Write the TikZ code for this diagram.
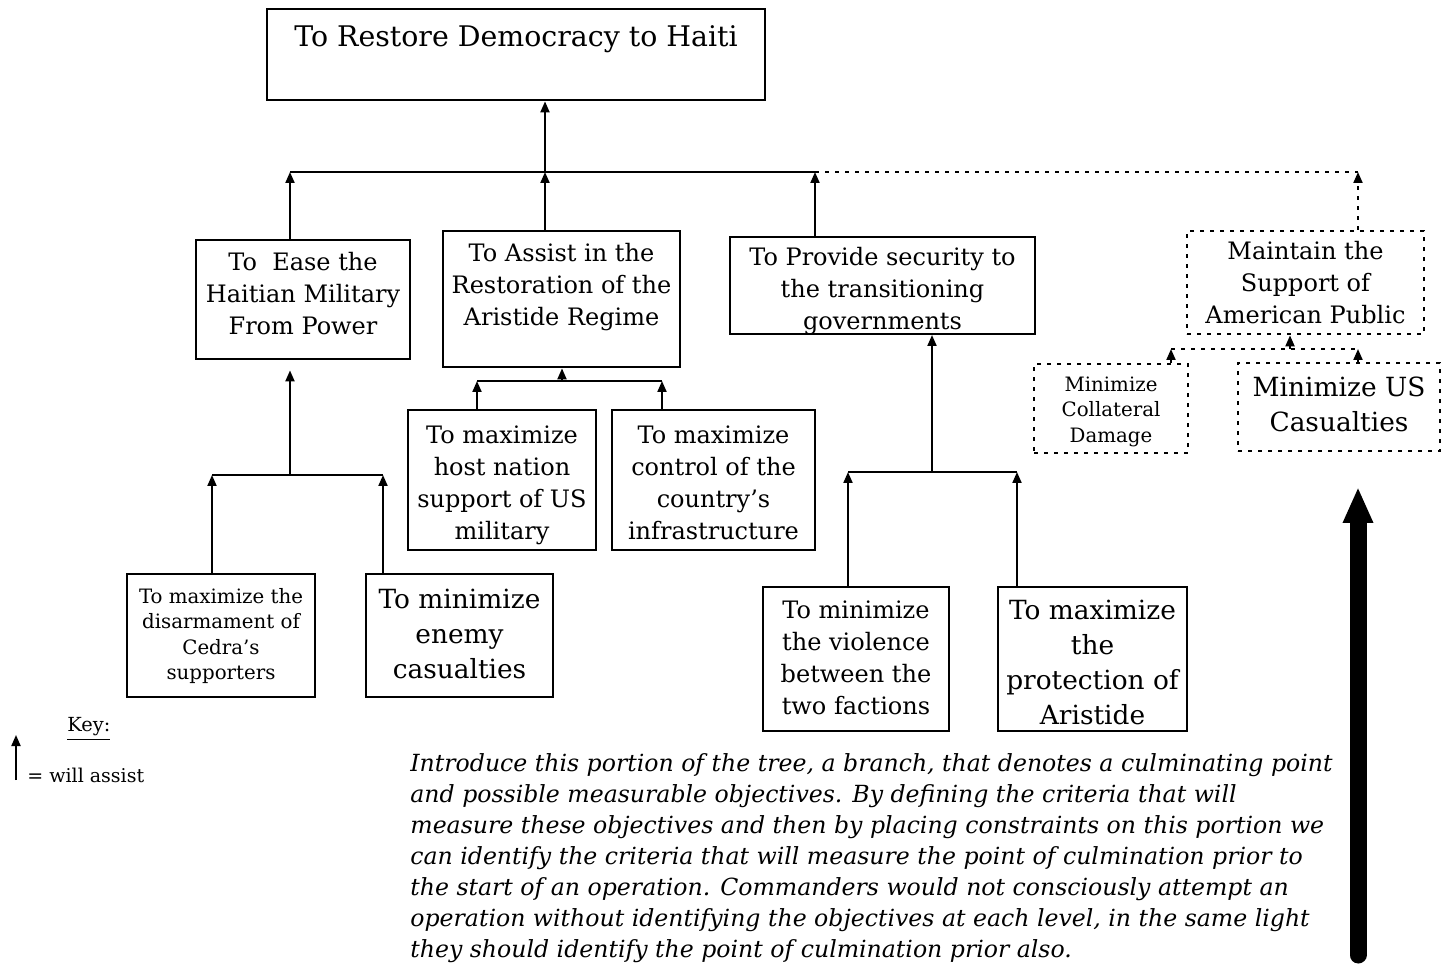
\documentclass[tikz,border=0pt]{standalone}
\usepackage{fontspec}
\setmainfont{DejaVu Serif}
\usetikzlibrary{positioning, arrows.meta}

\begin{document}
\begin{tikzpicture}[
    x=0.5pt, y=-0.5pt,
    box/.style={rectangle, draw, line width=1.2pt, align=center,
                inner sep=0pt, anchor=north},
    dbox/.style={box, dash pattern=on 2pt off 3pt},
    title/.style={font=\fontsize{14.2}{18}\selectfont},
    normal/.style={font=\fontsize{12}{16}\selectfont},
    big/.style={font=\fontsize{13.2}{17.5}\selectfont},
    small/.style={font=\fontsize{9.9}{12.8}\selectfont},
    arrow/.style={-{Triangle[length=5.5pt,width=4.5pt]}, line width=1pt},
    darrow/.style={arrow, dash pattern=on 2pt off 3pt},
    bar/.style={line width=1.2pt},
    dbar/.style={bar, dash pattern=on 2pt off 3pt},
    bigarrow/.style={-{Triangle[length=18pt,width=14pt]}, line width=8.5pt, line cap=round}
  ]
    \useasboundingbox (0,0) rectangle (1446,972);

    % goal and first level
    \node[box, title, minimum width=249pt, text height=18.5pt, text depth=27pt]
        (goal) at (516,8) {To Restore Democracy to Haiti};
    \node[box, normal, minimum width=107pt, text height=47pt, text depth=12.5pt]
        (ease) at (303,239) {To\ \ Ease the\\Haitian Military\\From Power};
    \node[box, normal, minimum width=118.5pt, text height=47pt, text depth=21pt]
        (assist) at (561.5,230) {To Assist in the\\Restoration of the\\Aristide Regime};
    \node[box, normal, minimum width=152.5pt, text height=46.3pt, text depth=2pt]
        (secure) at (882.5,236) {To Provide security to\\the transitioning\\governments};
    \node[dbox, normal, minimum width=118.5pt, text height=46pt, text depth=5.5pt]
        (support) at (1305.5,230) {Maintain the\\Support of\\American Public};

    % second level
    \node[box, small, minimum width=94pt, text height=52.9pt, text depth=8.6pt]
        (disarm) at (221,573) {To maximize the\\disarmament of\\Cedra's\\supporters};
    \node[box, big, minimum width=93.5pt, text height=52pt, text depth=9.5pt]
        (enemy) at (459.5,573) {To minimize\\enemy\\casualties};
    \node[box, normal, minimum width=94pt, text height=64.5pt, text depth=5.5pt]
        (host) at (502,409) {To maximize\\host nation\\support of US\\military};
    \node[box, normal, minimum width=101.5pt, text height=64.5pt, text depth=5.5pt]
        (infra) at (713.5,409) {To maximize\\control of the\\country's\\infrastructure};
    \node[box, normal, minimum width=93pt, text height=63.5pt, text depth=8.5pt]
        (violence) at (856,586) {To minimize\\the violence\\between the\\two factions};
    \node[box, big, minimum width=94.5pt, text height=68.5pt, text depth=3.5pt]
        (protect) at (1092.5,586) {To maximize\\the\\protection of\\Aristide};
    \node[dbox, small, minimum width=77pt, text height=39.1pt, text depth=5.4pt]
        (collat) at (1111,363) {Minimize\\Collateral\\Damage};
    \node[dbox, big, minimum width=101pt, text height=34pt, text depth=10pt]
        (uscas) at (1339,362) {Minimize US\\Casualties};

    % junctions
    \coordinate (jtop) at (545,172);
    \coordinate (jl) at (290,172);
    \coordinate (jr) at (815,172);
    \coordinate (jd) at (1358,172);
    \coordinate (j2) at (290,475);
    \coordinate (j2l) at (212,475);
    \coordinate (j2r) at (383,475);
    \coordinate (j3) at (562,381);
    \coordinate (j3l) at (477,381);
    \coordinate (j3r) at (662,381);
    \coordinate (j4) at (932,472);
    \coordinate (j4l) at (848,472);
    \coordinate (j4r) at (1017,472);
    \coordinate (j5) at (1290,349);
    \coordinate (j5l) at (1171,349);
    \coordinate (j5r) at (1358,349);

    \draw[arrow] (jtop) -- (jtop |- goal.south);
    \draw[bar] (jl) -- (jr);
    \draw[dbar] (jr) -- (jd);
    \draw[arrow] (ease.north -| jl) -- (jl);
    \draw[arrow] (assist.north -| jtop) -- (jtop);
    \draw[arrow] (secure.north -| jr) -- (jr);
    \draw[darrow] (support.north -| jd) -- (jd);

    \draw[arrow, shorten >=5pt] (j2) -- (j2 |- ease.south);
    \draw[bar] (j2l) -- (j2r);
    \draw[arrow] (disarm.north -| j2l) -- (j2l);
    \draw[arrow] (enemy.north -| j2r) -- (j2r);

    \draw[arrow] (j3) -- (j3 |- assist.south);
    \draw[bar] (j3l) -- (j3r);
    \draw[arrow] (host.north -| j3l) -- (j3l);
    \draw[arrow] (infra.north -| j3r) -- (j3r);

    \draw[arrow] (j4) -- (j4 |- secure.south);
    \draw[bar] (j4l) -- (j4r);
    \draw[arrow] (violence.north -| j4l) -- (j4l);
    \draw[arrow] (protect.north -| j4r) -- (j4r);

    \draw[darrow] (j5) -- (j5 |- support.south);
    \draw[dbar] (j5l) -- (j5r);
    \draw[darrow] (collat.north -| j5l) -- (j5l);
    \draw[darrow] (uscas.north -| j5r) -- (j5r);

    % culmination arrow
    \coordinate (bigfoot) at (1358,955);
    \coordinate (bighead) at (1358,487);
    \draw[bigarrow] (bigfoot) -- (bighead);

    % key
    \node[anchor=base west, inner sep=0pt, font=\fontsize{9.7}{12}\selectfont]
        (keytitle) at (67,732) {\underline{Key:}};
    \coordinate (keyfoot) at (16,780);
    \coordinate (keyhead) at (16,735);
    \draw[arrow] (keyfoot) -- (keyhead);
    \node[anchor=base west, inner sep=0pt, font=\fontsize{9.5}{12}\selectfont]
        (keytext) at (27,782) {= will assist};

    % note
    \node[anchor=base west, inner sep=0pt, align=left,
          font=\fontsize{11.8}{15.5}\selectfont\itshape] (note) at (410,957)
        {Introduce this portion of the tree, a branch, that denotes a culminating point\\
         and possible measurable objectives. By defining the criteria that will\\
         measure these objectives and then by placing constraints on this portion we\\
         can identify the criteria that will measure the point of culmination prior to\\
         the start of an operation. Commanders would not consciously attempt an\\
         operation without identifying the objectives at each level, in the same light\\
         they should identify the point of culmination prior also.};
\end{tikzpicture}
\end{document}
